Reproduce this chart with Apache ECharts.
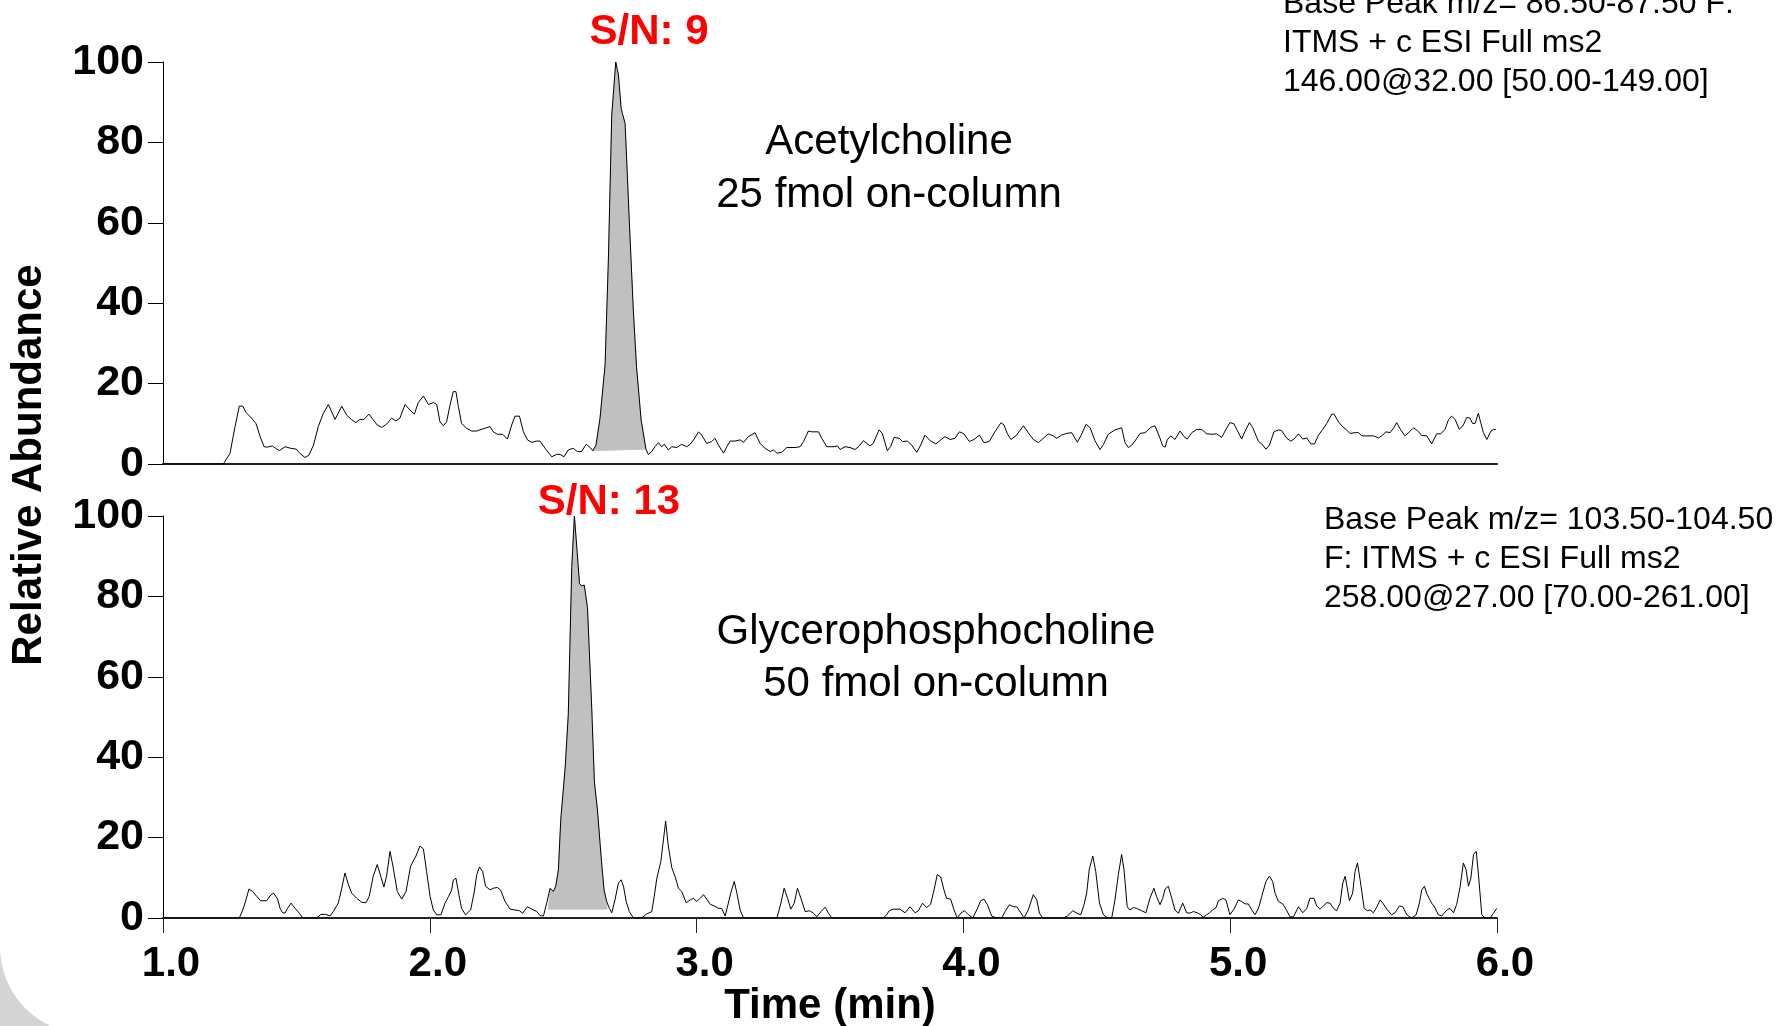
<!DOCTYPE html>
<html>
<head>
<meta charset="utf-8">
<script src="https://cdn.jsdelivr.net/npm/echarts@6/dist/echarts.min.js"></script>
<style>
    html, body { margin: 0; padding: 0; background: #fff; }
    #main { width: 1778px; height: 1026px; }
</style>
</head>
<body>
<div id="main"></div>
<script>
// x axis ticks (min)
var timeTicks = [1, 2, 3, 4, 5, 6];
var abundTicks = [0, 20, 40, 60, 80, 100];

// Acetylcholine trace, [time, relative abundance]
var acetylPts = [
    [1.0,0],[1.226,0],[1.251,2.6],[1.270,9.3],[1.286,14.4],[1.299,14.4],[1.311,12.8],[1.332,11.4],[1.349,10.0],[1.364,6.8],
    [1.379,4.3],[1.391,4.2],[1.410,4.5],[1.422,3.9],[1.436,3.3],[1.457,4.3],[1.479,3.9],[1.499,3.7],[1.511,2.8],[1.532,1.6],
    [1.547,2.2],[1.564,4.7],[1.582,9.3],[1.601,12.6],[1.620,14.8],[1.645,11.1],[1.670,14.4],[1.688,12.2],[1.707,11.0],[1.723,10.3],
    [1.738,11.1],[1.753,11.1],[1.772,12.4],[1.788,11.0],[1.803,9.7],[1.820,9.1],[1.838,9.9],[1.857,11.4],[1.873,10.7],[1.888,11.4],
    [1.907,14.8],[1.926,13.4],[1.942,12.4],[1.957,15.3],[1.976,16.9],[1.995,14.8],[2.013,15.3],[2.026,14.8],[2.038,10.5],[2.051,9.5],
    [2.063,10.5],[2.076,14.7],[2.088,18.0],[2.098,18.0],[2.107,14.3],[2.119,10.1],[2.138,8.9],[2.157,8.2],[2.176,8.2],[2.188,8.5],
    [2.207,8.9],[2.226,9.3],[2.238,8.0],[2.253,7.4],[2.273,7.4],[2.291,6.2],[2.307,9.7],[2.319,11.9],[2.336,11.9],[2.351,8.0],
    [2.366,6.0],[2.382,5.4],[2.401,5.7],[2.413,5.7],[2.432,3.9],[2.457,1.8],[2.476,2.4],[2.488,2.4],[2.503,1.8],[2.519,3.5],
    [2.538,3.9],[2.553,3.1],[2.569,3.1],[2.586,4.9],[2.601,4.1],[2.611,3.3],[2.623,4.7],[2.638,11.4],[2.657,24.6],[2.669,50.0],
    [2.682,86.8],[2.697,100],[2.707,96.8],[2.717,88.5],[2.722,87.2],[2.732,84.7],[2.748,60.0],[2.763,38.0],[2.775,24.0],[2.792,11.0],
    [2.810,3.7],[2.819,2.4],[2.832,3.1],[2.844,4.3],[2.857,5.3],[2.869,4.3],[2.879,4.9],[2.894,3.5],[2.907,4.3],[2.926,4.1],
    [2.944,4.9],[2.963,4.3],[2.976,4.9],[2.991,6.2],[3.007,8.0],[3.019,7.2],[3.038,5.1],[3.057,5.6],[3.069,6.4],[3.082,4.7],
    [3.101,2.7],[3.113,4.3],[3.126,5.7],[3.144,5.7],[3.163,6.0],[3.176,5.4],[3.194,6.8],[3.219,7.8],[3.238,5.1],[3.257,3.9],
    [3.276,3.1],[3.288,3.5],[3.301,2.7],[3.319,2.9],[3.338,4.1],[3.369,4.1],[3.388,4.3],[3.401,5.6],[3.419,8.2],[3.432,8.0],
    [3.457,8.0],[3.469,6.4],[3.488,4.3],[3.515,4.3],[3.528,4.5],[3.538,3.6],[3.556,4.3],[3.575,4.1],[3.594,3.6],[3.610,4.5],
    [3.625,5.8],[3.638,5.1],[3.650,4.5],[3.662,5.1],[3.684,8.5],[3.696,7.6],[3.715,3.3],[3.727,4.3],[3.740,6.6],[3.759,6.4],
    [3.772,5.6],[3.790,5.7],[3.806,4.7],[3.825,2.9],[3.840,4.7],[3.856,7.2],[3.875,5.8],[3.897,5.0],[3.915,6.0],[3.931,6.8],
    [3.950,6.1],[3.969,6.4],[3.985,8.0],[4.002,7.5],[4.022,5.6],[4.040,6.1],[4.060,7.2],[4.077,5.3],[4.097,5.6],[4.118,8.0],
    [4.141,10.3],[4.152,9.7],[4.165,7.5],[4.178,6.1],[4.197,7.0],[4.225,9.5],[4.246,7.5],[4.262,6.1],[4.281,5.3],[4.300,6.4],
    [4.318,7.5],[4.337,7.0],[4.350,6.4],[4.368,7.2],[4.387,7.6],[4.406,7.8],[4.427,5.4],[4.440,7.0],[4.460,9.9],[4.475,9.0],
    [4.493,5.8],[4.512,3.6],[4.525,4.9],[4.543,7.4],[4.568,8.5],[4.593,9.0],[4.606,5.3],[4.618,4.1],[4.631,4.7],[4.643,5.7],
    [4.662,7.6],[4.681,7.8],[4.702,9.1],[4.718,9.5],[4.737,6.4],[4.747,4.5],[4.756,4.2],[4.764,6.0],[4.777,7.0],[4.793,6.1],
    [4.812,8.2],[4.827,6.8],[4.839,6.2],[4.856,7.8],[4.874,8.6],[4.893,8.6],[4.912,7.5],[4.931,7.4],[4.949,7.5],[4.968,6.6],
    [4.984,8.6],[4.999,10.3],[5.014,10.0],[5.027,8.3],[5.043,6.2],[5.056,8.2],[5.072,10.3],[5.084,9.1],[5.106,5.6],[5.118,5.0],
    [5.134,3.7],[5.147,4.7],[5.164,8.0],[5.181,8.5],[5.193,8.3],[5.212,6.4],[5.227,5.7],[5.239,6.2],[5.256,7.5],[5.272,6.2],
    [5.287,6.5],[5.302,5.0],[5.316,5.0],[5.331,7.2],[5.347,8.6],[5.362,10.1],[5.381,12.4],[5.389,12.4],[5.406,10.5],[5.418,9.5],
    [5.434,8.6],[5.449,7.6],[5.468,7.8],[5.481,7.8],[5.493,7.0],[5.512,7.0],[5.537,7.0],[5.556,6.5],[5.568,7.0],[5.584,8.0],
    [5.599,7.8],[5.612,8.9],[5.624,10.3],[5.639,8.5],[5.655,7.0],[5.672,8.0],[5.687,9.0],[5.702,8.3],[5.718,7.1],[5.737,7.0],
    [5.755,5.0],[5.774,7.5],[5.789,7.5],[5.805,8.6],[5.818,11.0],[5.830,11.9],[5.843,11.1],[5.859,8.6],[5.874,9.7],[5.887,11.6],
    [5.899,11.4],[5.908,10.1],[5.918,10.1],[5.930,12.6],[5.939,10.3],[5.949,7.8],[5.962,6.1],[5.977,8.2],[5.987,8.6],[5.996,8.6]
];

// Glycerophosphocholine trace
var gpcPts = [
    [1.0,0],[1.286,0],[1.299,2.0],[1.311,4.5],[1.322,7.2],[1.336,6.6],[1.351,5.4],[1.366,4.3],[1.389,4.3],[1.401,5.5],
    [1.414,6.2],[1.429,4.8],[1.439,2.4],[1.447,1.4],[1.457,1.2],[1.467,2.4],[1.480,3.7],[1.495,2.4],[1.511,1.2],[1.524,0],
    [1.576,0],[1.592,0.9],[1.610,0.9],[1.626,0.5],[1.638,1.6],[1.657,3.7],[1.670,7.4],[1.682,11.2],[1.695,8.3],[1.707,6.2],
    [1.726,4.9],[1.745,3.9],[1.761,3.8],[1.773,5.4],[1.788,10.4],[1.803,13.3],[1.816,10.4],[1.828,7.7],[1.838,10.4],[1.851,16.6],
    [1.863,12.5],[1.878,6.6],[1.895,4.7],[1.911,6.6],[1.928,12.9],[1.948,15.4],[1.963,17.9],[1.976,17.2],[1.988,11.6],[2.001,5.4],
    [2.013,2.0],[2.026,0.8],[2.042,0.8],[2.057,3.7],[2.070,5.3],[2.082,7.0],[2.088,9.4],[2.098,9.9],[2.109,5.8],[2.119,2.4],
    [2.134,0.8],[2.153,2.0],[2.166,6.2],[2.176,10.8],[2.186,12.7],[2.198,11.6],[2.209,7.9],[2.226,7.0],[2.238,7.4],[2.253,7.6],
    [2.266,6.9],[2.282,4.1],[2.301,2.2],[2.319,2.0],[2.336,1.8],[2.348,1.2],[2.366,2.8],[2.382,2.2],[2.401,1.6],[2.413,0.6],
    [2.426,0.5],[2.438,3.7],[2.451,7.4],[2.463,6.6],[2.472,7.9],[2.482,12.0],[2.491,24.6],[2.507,37.1],[2.519,50.5],[2.532,87.2],
    [2.542,100],[2.551,92.2],[2.561,83.2],[2.569,82.6],[2.579,82.8],[2.591,77.2],[2.607,52.1],[2.617,33.8],[2.628,27.1],[2.644,13.7],
    [2.653,7.0],[2.663,4.1],[2.673,2.4],[2.682,1.3],[2.694,4.5],[2.707,8.7],[2.717,9.5],[2.726,7.9],[2.736,4.1],[2.748,1.6],
    [2.763,0],[2.794,0],[2.813,1.0],[2.832,1.6],[2.841,5.3],[2.851,9.9],[2.866,14.1],[2.876,19.6],[2.884,24.1],[2.894,17.9],
    [2.907,12.5],[2.919,10.4],[2.932,7.4],[2.944,6.6],[2.961,3.8],[2.976,4.5],[2.988,4.9],[3.001,4.1],[3.013,4.9],[3.026,5.8],
    [3.038,4.7],[3.051,3.4],[3.066,3.0],[3.082,2.4],[3.094,2.4],[3.107,0.5],[3.119,3.7],[3.128,6.2],[3.141,9.1],[3.151,6.2],
    [3.163,2.0],[3.176,0],[3.301,0],[3.316,3.7],[3.328,7.4],[3.341,4.9],[3.353,2.2],[3.366,3.7],[3.378,7.4],[3.391,4.9],
    [3.407,1.6],[3.423,1.8],[3.438,1.2],[3.451,0.3],[3.466,1.6],[3.482,2.7],[3.494,1.2],[3.507,0],[3.700,0],[3.712,0.8],
    [3.722,1.8],[3.737,2.2],[3.762,2.2],[3.781,1.3],[3.800,2.8],[3.819,1.3],[3.831,1.8],[3.847,3.7],[3.862,2.6],[3.877,3.4],
    [3.890,7.0],[3.902,10.8],[3.915,10.2],[3.927,7.0],[3.937,4.9],[3.952,4.7],[3.965,2.0],[3.977,0],[3.990,1.2],[4.004,1.8],
    [4.019,0.8],[4.035,0],[4.050,2.0],[4.065,4.3],[4.077,4.7],[4.090,3.3],[4.106,0.5],[4.125,0],[4.143,0],[4.158,1.8],
    [4.172,3.3],[4.187,2.8],[4.200,2.8],[4.215,1.3],[4.227,0],[4.243,2.0],[4.262,5.8],[4.275,4.5],[4.285,1.2],[4.297,0],
    [4.375,0],[4.390,0.5],[4.410,1.8],[4.425,1.2],[4.440,0.8],[4.452,3.3],[4.462,6.2],[4.472,12.2],[4.485,15.4],[4.496,11.6],
    [4.510,3.7],[4.525,0.8],[4.540,0],[4.556,0],[4.568,4.5],[4.581,10.9],[4.593,15.8],[4.602,12.0],[4.614,2.8],[4.624,2.0],
    [4.637,2.6],[4.649,2.4],[4.668,1.8],[4.684,1.3],[4.699,4.9],[4.714,7.4],[4.724,5.3],[4.737,3.3],[4.747,4.9],[4.756,7.2],
    [4.768,7.9],[4.781,4.9],[4.793,2.0],[4.806,1.2],[4.822,3.7],[4.837,1.3],[4.849,1.2],[4.862,1.6],[4.877,1.3],[4.889,0.8],
    [4.899,0.2],[4.912,0.8],[4.922,1.3],[4.934,2.0],[4.947,2.6],[4.956,4.3],[4.972,4.9],[4.984,4.5],[4.999,0.8],[5.014,2.2],
    [5.031,4.5],[5.043,4.1],[5.056,3.5],[5.068,3.5],[5.081,2.0],[5.093,0.8],[5.106,2.4],[5.118,5.3],[5.134,9.1],[5.147,10.4],
    [5.159,9.1],[5.168,6.2],[5.181,4.1],[5.197,3.5],[5.209,2.2],[5.224,0.3],[5.237,0.3],[5.256,2.8],[5.272,1.3],[5.287,2.4],
    [5.299,4.9],[5.314,4.9],[5.324,3.0],[5.337,2.2],[5.349,3.0],[5.362,3.8],[5.374,3.7],[5.387,2.4],[5.399,1.8],[5.412,3.7],
    [5.422,8.7],[5.431,10.4],[5.447,4.3],[5.459,6.2],[5.468,11.6],[5.477,13.7],[5.487,9.5],[5.502,2.4],[5.514,1.8],[5.524,2.0],
    [5.537,1.3],[5.549,2.7],[5.562,4.5],[5.574,3.5],[5.587,2.2],[5.605,0.8],[5.618,1.3],[5.634,3.0],[5.647,2.8],[5.662,0.8],
    [5.680,0],[5.697,0.8],[5.709,3.7],[5.718,7.0],[5.728,7.9],[5.737,6.0],[5.755,3.7],[5.764,3.0],[5.780,0.8],[5.793,0.5],
    [5.812,2.0],[5.824,2.4],[5.837,1.3],[5.849,3.4],[5.862,7.9],[5.874,13.7],[5.884,12.0],[5.893,7.9],[5.902,9.9],[5.912,15.8],
    [5.922,16.6],[5.930,11.2],[5.943,0.8],[5.955,0],[5.974,0],[5.987,1.2],[5.999,2.4]
];

// integration baselines of the shaded peaks (start, end)
var acetylBase = [[2.611, 3.3], [2.810, 3.7]];
var gpcBase = [[2.444, 2.2], [2.665, 2.2]];

// texts
var snLabels = ['S/N: 9', 'S/N: 13'];
var compoundLabels = ['Acetylcholine\n25 fmol on-column', 'Glycerophosphocholine\n50 fmol on-column'];
var scanLabels = [
    'Base Peak m/z= 86.50-87.50 F:\nITMS + c ESI Full ms2\n146.00@32.00 [50.00-149.00]',
    'Base Peak m/z= 103.50-104.50\nF: ITMS + c ESI Full ms2\n258.00@27.00 [70.00-261.00]'
];

var FONT = '"Liberation Sans", Arial, Helvetica, sans-serif';

(function () {
    var myChart = echarts.init(document.getElementById('main'), null, { renderer: 'canvas' });

    // polygon of the shaded peak: baseline start -> trace -> baseline end
    function peakPolygon(pts, base) {
        var poly = [base[0]];
        pts.forEach(function (p) {
            if (p[0] > base[0][0] && p[0] < base[1][0]) poly.push(p);
        });
        poly.push(base[1]);
        return poly;
    }

    function fillSeries(idx, poly) {
        return {
            type: 'custom',
            xAxisIndex: idx, yAxisIndex: idx,
            silent: true,
            z: 1,
            data: [poly[0]],
            renderItem: function (params, api) {
                var pts = poly.map(function (p) { return api.coord(p); });
                return {
                    type: 'polygon',
                    shape: { points: pts },
                    style: { fill: '#c0c0c0', stroke: '#c8c8c8', lineWidth: 1 }
                };
            }
        };
    }

    function traceSeries(idx, pts) {
        return {
            type: 'line',
            xAxisIndex: idx, yAxisIndex: idx,
            data: pts,
            symbol: 'none',
            showSymbol: false,
            z: 3,
            lineStyle: { color: '#000', width: 1 }
        };
    }

    function xAxis(idx, showLabels) {
        return {
            type: 'value', gridIndex: idx,
            min: timeTicks[0], max: timeTicks[timeTicks.length - 1], interval: 1,
            axisLine: { show: true, onZero: false, lineStyle: { color: '#222', width: 2 } },
            axisTick: { show: showLabels, inside: false, length: 15, lineStyle: { color: '#222', width: 1 } },
            axisLabel: {
                show: showLabels, margin: 25, showMinLabel: true, showMaxLabel: true,
                fontFamily: FONT, fontWeight: 'bold', fontSize: 42, color: '#000',
                padding: [0, 0, 0, 16],
                formatter: function (v) { return v.toFixed(1); }
            },
            splitLine: { show: false },
            name: showLabels ? 'Time (min)' : '',
            nameLocation: 'middle', nameGap: 67,
            nameTextStyle: { fontFamily: FONT, fontWeight: 'bold', fontSize: 42, color: '#000' }
        };
    }

    function yAxis(idx) {
        return {
            type: 'value', gridIndex: idx,
            min: abundTicks[0], max: abundTicks[abundTicks.length - 1], interval: 20,
            axisLine: { show: true, lineStyle: { color: '#000', width: 1 } },
            axisTick: { show: true, inside: false, length: 15, lineStyle: { color: '#000', width: 1 } },
            axisLabel: {
                margin: 19, fontFamily: FONT, fontWeight: 'bold', fontSize: 43, color: '#000',
                showMinLabel: true, showMaxLabel: true
            },
            splitLine: { show: false }
        };
    }

    function txt(x, y, text, opt) {
        var style = {
            text: text, x: 0, y: 0,
            fontFamily: FONT, fontSize: opt.size, fontWeight: opt.weight || 'normal',
            fill: opt.color || '#000',
            align: opt.align || 'center', verticalAlign: opt.valign || 'middle',
            lineHeight: opt.lineHeight
        };
        return { type: 'text', x: x, y: y, rotation: opt.rotation || 0, z: 10, style: style };
    }

    var option = {
        animation: false,
        backgroundColor: '#fff',
        grid: [
            { left: 163, top: 62, width: 1334, height: 402, outerBoundsMode: 'none', containLabel: false },
            { left: 163, top: 516, width: 1334, height: 402, outerBoundsMode: 'none', containLabel: false }
        ],
        xAxis: [xAxis(0, false), xAxis(1, true)],
        yAxis: [yAxis(0), yAxis(1)],
        series: [
            fillSeries(0, peakPolygon(acetylPts, acetylBase)),
            traceSeries(0, acetylPts),
            fillSeries(1, peakPolygon(gpcPts, gpcBase)),
            traceSeries(1, gpcPts)
        ],
        graphic: [
            // grey corner of the slide frame, bottom left
            { type: 'rect', shape: { x: 0, y: 947, width: 87, height: 79 }, style: { fill: '#d4d4d4' }, z: 0, silent: true },
            { type: 'circle', shape: { cx: 87, cy: 947, r: 87 }, style: { fill: '#fff' }, z: 0, silent: true },
            txt(29, 465, 'Relative Abundance', { size: 42, weight: 'bold', rotation: Math.PI / 2 }),
            txt(649, 32, snLabels[0], { size: 42, weight: 'bold', color: '#ff0000' }),
            txt(609, 502, snLabels[1], { size: 42, weight: 'bold', color: '#ff0000' }),
            txt(889, 169, compoundLabels[0], { size: 42, lineHeight: 53 }),
            txt(936, 658, compoundLabels[1], { size: 42, lineHeight: 52 }),
            txt(1283, -15, scanLabels[0], { size: 32, align: 'left', valign: 'top', lineHeight: 39 }),
            txt(1324, 501, scanLabels[1], { size: 32, align: 'left', valign: 'top', lineHeight: 39 })
        ]
    };

    myChart.setOption(option);
    window.addEventListener('resize', function () {
        myChart.resize();
    });
})();
</script>
</body>
</html>
